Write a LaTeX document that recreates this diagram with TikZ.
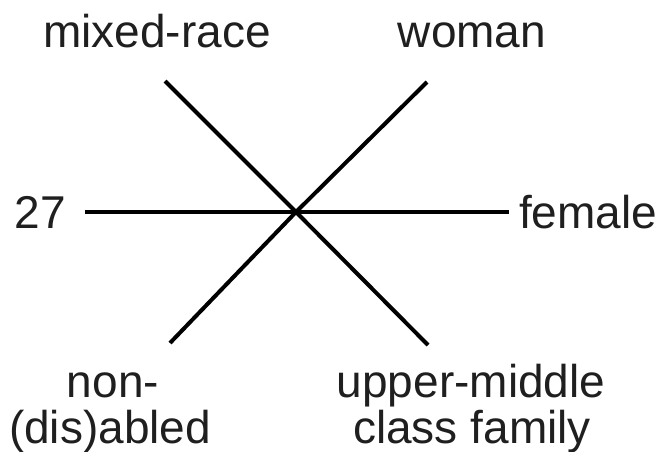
\documentclass[tikz,border=0pt]{standalone}
\usepackage{fontspec}
\setmainfont{Liberation Sans}
\begin{document}
\begin{tikzpicture}[x=1pt,y=-1pt,
  lbl/.style={anchor=base,inner sep=0pt,font=\fontsize{46}{47}\selectfont,text=black!88},
  spoke/.style={line width=4pt,black}]
\useasboundingbox (0,0) rectangle (660,451);
\coordinate (c) at (296,212);
\coordinate (h1) at (85,212);
\coordinate (h2) at (509,212);
\coordinate (d1a) at (165,81);
\coordinate (d1b) at (428,345);
\coordinate (d2a) at (427,82);
\coordinate (d2b) at (170,343);
\draw[spoke] (h1) -- (c) -- (h2);
\draw[spoke] (d1a) -- (c) -- (d1b);
\draw[spoke] (d2a) -- (c) -- (d2b);
\node[lbl] (mixed) at (157,47) {mixed-race};
\node[lbl] (woman) at (472,47) {woman};
\node[lbl,anchor=base east] (n27) at (66,228) {27};
\node[lbl,anchor=base west] (female) at (519,228) {female};
\node[lbl] (nonA) at (113,397) {non-};
\node[lbl] (nonB) at (110,443) {(dis)abled};
\node[lbl] (upA) at (471,397) {upper-middle};
\node[lbl] (upB) at (472,443) {class family};
\end{tikzpicture}
\end{document}
